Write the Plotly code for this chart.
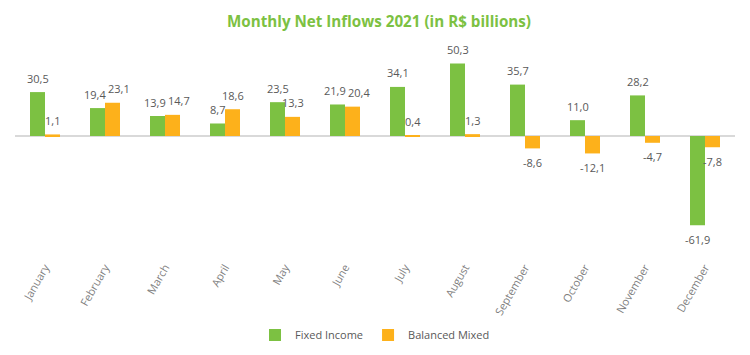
import plotly.graph_objects as go

months = ["January", "February", "March", "April", "May", "June", "July",
          "August", "September", "October", "November", "December"]
fixed_income = [30.5, 19.4, 13.9, 8.7, 23.5, 21.9, 34.1, 50.3, 35.7, 11.0, 28.2, -61.9]
balanced_mixed = [1.1, 23.1, 14.7, 18.6, 13.3, 20.4, 0.4, 1.3, -8.6, -12.1, -4.7, -7.8]

GREEN = "#7cc142"
ORANGE = "#fdb11b"


def fmt(v):
    return f"{v:.1f}".replace(".", ",")


label_font = dict(family="Open Sans, Liberation Sans, sans-serif", size=11, color="#595959")

fig = go.Figure()
fig.add_trace(go.Bar(
    x=months, y=fixed_income, name="Fixed Income",
    marker=dict(color=GREEN, line=dict(width=0)),
))
fig.add_trace(go.Bar(
    x=months, y=balanced_mixed, name="Balanced Mixed",
    marker=dict(color=ORANGE, line=dict(width=0)),
))

annotations = []
for m, fv, bv in zip(months, fixed_income, balanced_mixed):
    crowded = fv > 0 and bv > 0 and abs(fv - bv) < 6
    for v, base, nudge in ((fv, -7.5, -2.5), (bv, 7.5, 6)):
        annotations.append(dict(
            x=m, y=v, xref="x", yref="y", text=fmt(v), showarrow=False,
            xanchor="center", yanchor="middle",
            xshift=base + (nudge if crowded else 0),
            yshift=14 if v >= 0 else -14,
            font=label_font,
        ))

fig.update_layout(
    width=742, height=347,
    paper_bgcolor="white", plot_bgcolor="white",
    barmode="group", bargap=0.5, bargroupgap=0,
    margin=dict(l=7, r=15, t=37, b=97, autoexpand=False),
    title=dict(text="<b>Monthly Net Inflows 2021 (in R$ billions)</b>",
               x=0.5, xanchor="center", y=0.961, yanchor="middle",
               font=dict(family="Open Sans, sans-serif", size=15.2, color=GREEN)),
    legend=dict(orientation="h", x=0.5, xanchor="center", y=-0.3615, yanchor="middle",
                font=dict(family="Open Sans, sans-serif", size=11, color="#595959"),
                itemwidth=30, traceorder="normal"),
    xaxis=dict(tickangle=-60, showline=False, showgrid=False, ticks="", automargin=False,
               tickfont=dict(family="Open Sans, sans-serif", size=11, color="#7f7f7f")),
    yaxis=dict(range=[-84.7, 63.2], showgrid=False, showticklabels=False, automargin=False,
               zeroline=True, zerolinecolor="#d9d9d9", zerolinewidth=1.5),
    annotations=annotations,
    showlegend=True,
)

fig.write_html("out.html")
